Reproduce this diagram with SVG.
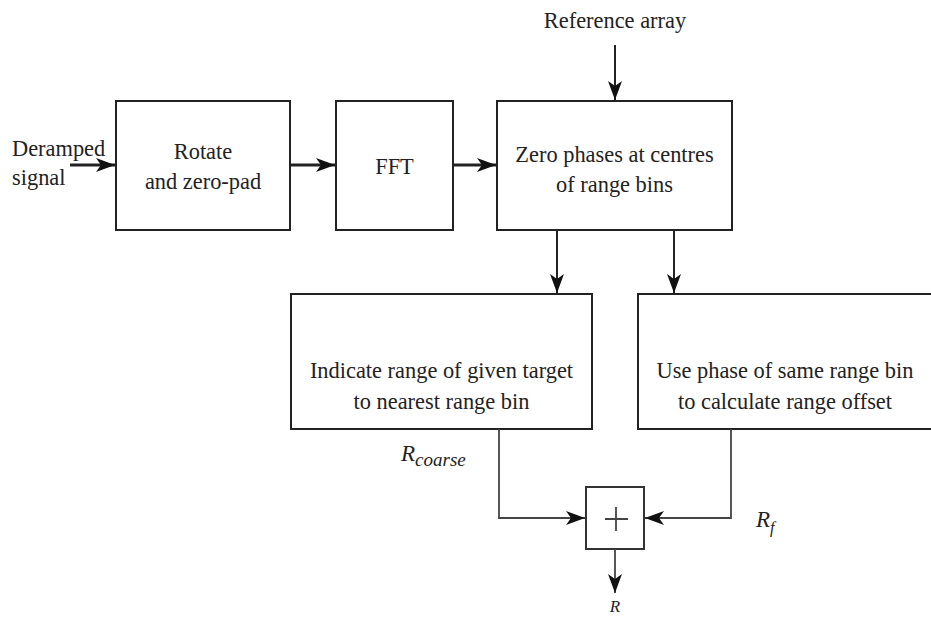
<svg xmlns="http://www.w3.org/2000/svg" width="931" height="619" viewBox="0 0 931 619">
  <style>
    .box { fill: #ffffff; stroke: #222222; stroke-width: 2; }
    .lbl { font-family: "Liberation Serif", "Times New Roman", serif; font-size: 22.4px; fill: #222222; text-anchor: middle; }
    .sym { font-family: "Liberation Serif", "Times New Roman", serif; font-style: italic; fill: #222222; }
    .wire { fill: none; stroke: #222222; stroke-width: 2; }
    .bold { stroke-width: 3.2; }
    .thin { stroke: #444444; stroke-width: 1.8; }
  </style>
  <defs>
    <marker id="head" viewBox="-20 -8 21 16" refX="0" refY="0" markerWidth="21" markerHeight="16" markerUnits="userSpaceOnUse" orient="auto">
      <path d="M0,0 L-19,-7 L-14,0 L-19,7 Z" fill="#111111"/>
    </marker>
  </defs>

  <rect width="931" height="619" fill="#ffffff"/>

  <!-- input label -->
  <g id="input">
    <text class="lbl" x="12" y="156" style="text-anchor:start">Deramped</text>
    <text class="lbl" x="12" y="185" style="text-anchor:start">signal</text>
  </g>

  <g id="ref-label">
    <text class="lbl" x="615" y="28">Reference array</text>
  </g>

  <g id="rotate">
    <rect class="box" x="116" y="101" width="174" height="129"/>
    <text class="lbl" x="203" y="159">Rotate</text>
    <text class="lbl" x="203" y="189">and zero-pad</text>
  </g>

  <g id="fft">
    <rect class="box" x="336" y="101" width="117" height="129"/>
    <text class="lbl" x="394.5" y="174">FFT</text>
  </g>

  <g id="zero-phase">
    <rect class="box" x="497" y="101" width="235" height="129"/>
    <text class="lbl" x="614.5" y="162">Zero phases at centres</text>
    <text class="lbl" x="614.5" y="192">of range bins</text>
  </g>

  <g id="coarse">
    <rect class="box" x="291" y="294" width="301" height="135"/>
    <text class="lbl" x="441.5" y="378">Indicate range of given target</text>
    <text class="lbl" x="441.5" y="409">to nearest range bin</text>
  </g>

  <g id="fine">
    <rect class="box" x="638" y="294" width="300" height="135"/>
    <text class="lbl" x="785" y="378">Use phase of same range bin</text>
    <text class="lbl" x="785" y="409">to calculate range offset</text>
  </g>

  <g id="sum">
    <rect class="box" x="586" y="487" width="58" height="62" style="stroke:#333333"/>
    <path class="wire thin" d="M605,519 H628 M616,507 V531"/>
  </g>

  <g id="symbols">
    <text class="sym" x="401" y="461" font-size="23">R<tspan font-size="19" dy="5">coarse</tspan></text>
    <text class="sym" x="756" y="527" font-size="23">R<tspan font-size="16" dy="6">f</tspan></text>
    <text class="sym" x="615" y="612" font-size="17" text-anchor="middle">R</text>
  </g>

  <g id="connectors">
    <path class="wire bold" d="M70,165 H115" marker-end="url(#head)"/>
    <path class="wire bold" d="M290,165 H335" marker-end="url(#head)"/>
    <path class="wire bold" d="M453,165 H496" marker-end="url(#head)"/>
    <path class="wire" d="M615,45 V100" marker-end="url(#head)"/>
    <path class="wire" d="M557,230 V293" marker-end="url(#head)"/>
    <path class="wire" d="M674,230 V293" marker-end="url(#head)"/>
    <path class="wire thin" d="M499,429 V518 H585" marker-end="url(#head)"/>
    <path class="wire thin" d="M731,429 V518 H645" marker-end="url(#head)"/>
    <path class="wire thin" d="M615,549 V593" marker-end="url(#head)"/>
  </g>
</svg>
